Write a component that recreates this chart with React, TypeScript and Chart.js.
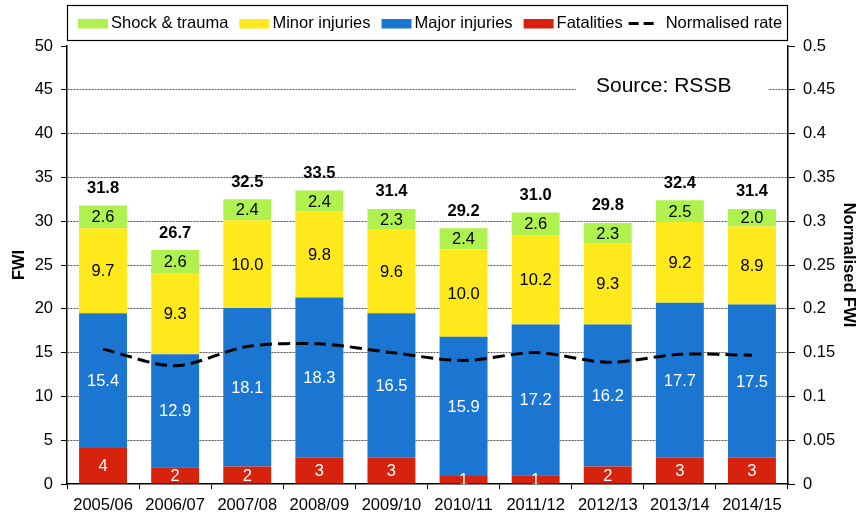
import React, { useEffect, useRef } from 'react';
import { Chart, registerables } from 'chart.js';

Chart.register(...registerables);

const categories = ['2005/06', '2006/07', '2007/08', '2008/09', '2009/10', '2010/11', '2011/12', '2012/13', '2013/14', '2014/15'];
const fatalities = [4.1, 1.9, 2.0, 3.0, 3.0, 0.9, 1.0, 2.0, 3.0, 3.0];
const majorInjuries = [15.4, 12.9, 18.1, 18.3, 16.5, 15.9, 17.2, 16.2, 17.7, 17.5];
const minorInjuries = [9.7, 9.3, 10.0, 9.8, 9.6, 10.0, 10.2, 9.3, 9.2, 8.9];
const shockTrauma = [2.6, 2.6, 2.4, 2.4, 2.3, 2.4, 2.6, 2.3, 2.5, 2.0];
const totals = [31.8, 26.7, 32.5, 33.5, 31.4, 29.2, 31.0, 29.8, 32.4, 31.4];
const normalisedRate = [0.154, 0.135, 0.157, 0.16, 0.15, 0.141, 0.15, 0.139, 0.148, 0.147];

const COLORS = {
  shock: '#AFF250',
  minor: '#FFE81C',
  major: '#1B76D1',
  fatal: '#D7220E',
};

const FONT = '"Liberation Sans", Arial, Helvetica, sans-serif';
const FS = 16.5;

const legendItems = [
  { label: 'Shock & trauma', color: COLORS.shock, type: 'box' },
  { label: 'Minor injuries', color: COLORS.minor, type: 'box' },
  { label: 'Major injuries', color: COLORS.major, type: 'box' },
  { label: 'Fatalities', color: COLORS.fatal, type: 'box' },
  { label: 'Normalised rate', color: '#000', type: 'line' },
];

const decorPlugin = {
  id: 'decor',
  beforeDatasetsDraw(chart: any) {
    const ctx = chart.ctx;
    ctx.save();
    ctx.fillStyle = '#fff';
    ctx.fillRect(576, 64, 192, 38);
    ctx.fillStyle = '#000';
    ctx.font = `21px ${FONT}`;
    ctx.textBaseline = 'alphabetic';
    ctx.textAlign = 'left';
    ctx.fillText('Source: RSSB', 596, 91.5);
    ctx.restore();
  },
  afterDatasetsDraw(chart: any) {
    const ctx = chart.ctx;
    const area = chart.chartArea;
    ctx.save();
    ctx.beginPath();
    ctx.rect(area.left, area.top - 40, area.right - area.left, area.bottom - area.top + 40);
    ctx.clip();
    ctx.textAlign = 'center';
    ctx.textBaseline = 'middle';
    ctx.font = `${FS}px ${FONT}`;
    chart.data.datasets.forEach((ds: any, di: number) => {
      if (ds.type === 'line') return;
      const meta = chart.getDatasetMeta(di);
      meta.data.forEach((el: any, i: number) => {
        const v = ds.data[i];
        const txt = ds.labelDigits === 0 ? String(Math.round(v)) : v.toFixed(1);
        ctx.fillStyle = ds.labelColor;
        ctx.fillText(txt, el.x, (el.y + el.base) / 2 + 1);
      });
    });
    const topIdx = chart.data.datasets.findIndex((d: any) => d.label === 'Shock & trauma');
    const topMeta = chart.getDatasetMeta(topIdx);
    ctx.font = `bold ${FS}px ${FONT}`;
    ctx.fillStyle = '#000';
    topMeta.data.forEach((el: any, i: number) => {
      ctx.fillText(totals[i].toFixed(1), el.x, el.y - 17);
    });
    ctx.restore();
  },
  afterDraw(chart: any) {
    const ctx = chart.ctx;
    const area = chart.chartArea;
    ctx.save();
    ctx.strokeStyle = '#000';
    ctx.lineWidth = 1.2;
    ctx.strokeRect(area.left + 0.5, 5.5, 787 - area.left, 35);
    ctx.font = `${FS}px ${FONT}`;
    ctx.textBaseline = 'alphabetic';
    ctx.textAlign = 'left';
    let x = 78;
    legendItems.forEach((it) => {
      if (it.type === 'box') {
        ctx.fillStyle = it.color;
        ctx.fillRect(x, 19, 30, 9.5);
        x += 33;
      } else {
        x -= 5;
        ctx.strokeStyle = it.color;
        ctx.lineWidth = 3;
        ctx.beginPath();
        ctx.moveTo(x, 23.5);
        ctx.lineTo(x + 10, 23.5);
        ctx.moveTo(x + 15, 23.5);
        ctx.lineTo(x + 25, 23.5);
        ctx.stroke();
        x += 37;
      }
      ctx.fillStyle = '#000';
      ctx.fillText(it.label, x, 28);
      x += ctx.measureText(it.label).width + 11;
    });
    ctx.restore();
  },
};

export default function App() {
  const ref = useRef<HTMLCanvasElement | null>(null);
  useEffect(() => {
    document.body.style.margin = '0';
    Chart.defaults.font.family = FONT;
    Chart.defaults.color = '#000';
    const chart = new Chart(ref.current as HTMLCanvasElement, {
      type: 'bar',
      data: {
        labels: categories,
        datasets: [
          {
            type: 'line',
            label: 'Normalised rate',
            data: normalisedRate,
            yAxisID: 'y1',
            borderColor: '#000',
            borderWidth: 3,
            borderDash: [12, 6],
            tension: 0.3,
            pointRadius: 0,
            fill: false,
            order: 0,
          } as any,
          {
            label: 'Fatalities',
            data: fatalities,
            backgroundColor: COLORS.fatal,
            labelColor: '#fff',
            labelDigits: 0,
            order: 1,
          } as any,
          {
            label: 'Major injuries',
            data: majorInjuries,
            backgroundColor: COLORS.major,
            labelColor: '#fff',
            labelDigits: 1,
            order: 1,
          } as any,
          {
            label: 'Minor injuries',
            data: minorInjuries,
            backgroundColor: COLORS.minor,
            labelColor: '#000',
            labelDigits: 1,
            order: 1,
          } as any,
          {
            label: 'Shock & trauma',
            data: shockTrauma,
            backgroundColor: COLORS.shock,
            labelColor: '#000',
            labelDigits: 1,
            order: 1,
          } as any,
        ],
      },
      options: {
        responsive: false,
        animation: false,
        layout: { padding: { top: 46, left: 0, right: 0, bottom: 0 } },
        datasets: {
          bar: { barPercentage: 0.665, categoryPercentage: 1 },
        },
        plugins: {
          legend: { display: false },
          tooltip: { enabled: false },
        },
        scales: {
          x: {
            stacked: true,
            offset: true,
            grid: {
              drawOnChartArea: false,
              drawTicks: true,
              tickLength: 5,
              tickColor: '#000',
              tickWidth: 1,
              offset: true,
            },
            border: { display: true, color: '#000', width: 1.5 },
            ticks: { font: { size: FS }, color: '#000', padding: 7, maxRotation: 0, autoSkip: false },
            afterFit: (s: any) => {
              s.height = 29;
            },
          },
          y: {
            stacked: true,
            position: 'left',
            min: 0,
            max: 50,
            ticks: { stepSize: 5, font: { size: FS }, color: '#000', padding: 8 },
            grid: {
              color: (c: any) => (c.tick && (c.tick.value === 0 || c.tick.value === 50) ? 'rgba(0,0,0,0)' : '#555'),
              lineWidth: 1,
              tickLength: 6,
              tickColor: '#000',
              tickWidth: 1,
              tickBorderDash: [],
            },
            border: { display: true, color: '#000', width: 1.5, dash: [2, 1] },
            title: {
              display: true,
              text: 'FWI',
              font: { size: FS, weight: 'bold' },
              color: '#000',
              padding: { top: 10, bottom: 0 },
            },
            afterFit: (s: any) => {
              s.width = 67;
            },
          },
          y1: {
            position: 'right',
            min: 0,
            max: 0.5,
            ticks: {
              stepSize: 0.05,
              font: { size: FS },
              color: '#000',
              padding: 8,
              callback: (v: any) => String(Number(Number(v).toFixed(2))),
            },
            grid: {
              drawOnChartArea: false,
              tickLength: 7,
              tickColor: '#000',
              tickWidth: 1,
            },
            border: { display: true, color: '#000', width: 1.5 },
            title: {
              display: true,
              text: 'Normalised FWI',
              font: { size: FS, weight: 'bold' },
              color: '#000',
              padding: { top: 9, bottom: 0 },
            },
            afterFit: (s: any) => {
              s.width = 79;
            },
          },
        },
      } as any,
      plugins: [decorPlugin],
    });
    return () => chart.destroy();
  }, []);
  return (
    <div style={{ width: 867, height: 513 }}>
      <canvas ref={ref} width={867} height={513} style={{ display: 'block' }} />
    </div>
  );
}
